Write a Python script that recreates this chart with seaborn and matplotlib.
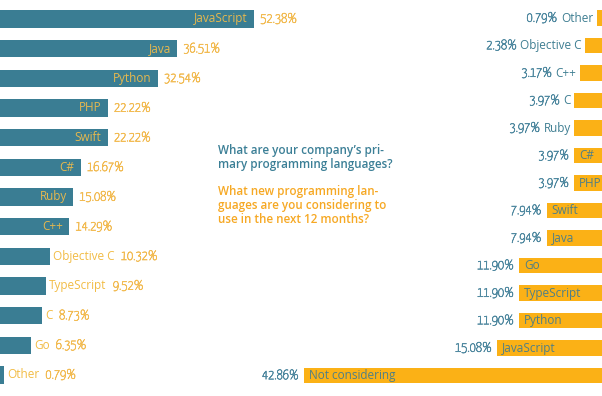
import matplotlib
matplotlib.use("Agg")
import matplotlib.pyplot as plt
import matplotlib.patheffects as pe
import seaborn as sns
import pandas as pd

# trenutni jezici (lijevo)
jezici_sada = ["JavaScript", "Java", "Python", "PHP", "Swift", "C#", "Ruby", "C++",
               "Objective C", "TypeScript", "C", "Go", "Other"]
udio_sada = [52.38, 36.51, 32.54, 22.22, 22.22, 16.67, 15.08, 14.29,
             10.32, 9.52, 8.73, 6.35, 0.79]

# novi jezici koji se razmatraju (desno)
jezici_novi = ["Other", "Objective C", "C++", "C", "Ruby", "C#", "PHP", "Swift",
               "Java", "Go", "TypeScript", "Python", "JavaScript", "Not considering"]
udio_novi = [0.79, 2.38, 3.17, 3.97, 3.97, 3.97, 3.97, 7.94,
             7.94, 11.90, 11.90, 11.90, 15.08, 42.86]
vani_desno = ["Other", "Objective C", "C++", "C", "Ruby"]

pitanje_1 = "What are your company\u2019s pri-\nmary programming languages?"
pitanje_2 = "What new programming lan-\nguages are you considering to\nuse in the next 12 months?"

TEAL = "#3a7d93"
NARANDZASTA = "#fbb116"
ZLATNA = "#e6b84e"
ZUTA_VRIJ = "#f2bb52"
TEAL_VRIJ = "#5089a0"
TEKST_U_NAR = "#4f7f86"

LAB = ["Open Sans", "DejaVu Sans"]
NUM = ["Yanone Kaffeesatz", "Abel", "DejaVu Sans"]
NUM_VEL = 9.8


def deblje(boja):
    # font za brojeve je jako tanak, malo ga podebljamo
    return [pe.withStroke(linewidth=0.45, foreground=boja)]


sns.set_theme(style="white")
fig = plt.figure(figsize=(6.02, 3.96), dpi=100)

# lijevi grafikon
ax1 = fig.add_axes([0, 0, 1, 1])
ax1.patch.set_alpha(0)
df1 = pd.DataFrame({"jezik": jezici_sada, "udio": udio_sada})
sns.barplot(data=df1, x="udio", y="jezik", orient="h", color=TEAL, saturation=1,
            width=0.58, linewidth=0, ax=ax1)
ax1.set_xlim(0, 602 / 4.85)
ax1.set_ylim(12.71, -0.64)
ax1.axis("off")

for i, (naziv, v) in enumerate(zip(jezici_sada, udio_sada)):
    if v > 12:
        lab = ax1.annotate(naziv, xy=(v, i), xytext=(-4.5, 0), textcoords="offset points",
                           ha="right", va="center", fontsize=8.5, color=ZLATNA, family=LAB)
        ax1.annotate(f"{v:.2f}%", xy=(v, i), xytext=(4.5, 0), textcoords="offset points",
                     ha="left", va="center", fontsize=NUM_VEL, color=ZUTA_VRIJ,
                     family=NUM, path_effects=deblje(ZUTA_VRIJ))
    else:
        lab = ax1.annotate(naziv, xy=(v, i), xytext=(2.2, 0), textcoords="offset points",
                           ha="left", va="center", fontsize=8.5, color="#f2bc45", family=LAB)
        ax1.annotate(f"{v:.2f}%", xy=(1, 0.5), xycoords=lab, xytext=(4.5, 0),
                     textcoords="offset points", ha="left", va="center",
                     fontsize=NUM_VEL, color=ZUTA_VRIJ, family=NUM,
                     path_effects=deblje(ZUTA_VRIJ))

# desni grafikon
ax2 = fig.add_axes([0, 0, 1, 1])
ax2.patch.set_alpha(0)
df2 = pd.DataFrame({"jezik": jezici_novi, "udio": udio_novi})
sns.barplot(data=df2, x="udio", y="jezik", orient="h", color=NARANDZASTA, saturation=1,
            width=0.57, linewidth=0, ax=ax2)
ax2.set_xlim(602 / 6.95, 0)
ax2.set_ylim(13.745, -0.655)
ax2.axis("off")

for i, (naziv, v) in enumerate(zip(jezici_novi, udio_novi)):
    if naziv in vani_desno:
        lab = ax2.annotate(naziv, xy=(v, i), xytext=(-2.5, 0), textcoords="offset points",
                           ha="right", va="center", fontsize=8.5, color="#3f7e92", family=LAB)
        ax2.annotate(f"{v:.2f}%", xy=(0, 0.5), xycoords=lab, xytext=(-2.5, 0),
                     textcoords="offset points", ha="right", va="center",
                     fontsize=NUM_VEL, color=TEAL_VRIJ, family=NUM,
                     path_effects=deblje(TEAL_VRIJ))
    else:
        ax2.annotate(naziv, xy=(v, i), xytext=(3.5, 0), textcoords="offset points",
                     ha="left", va="center", fontsize=8.5, color=TEKST_U_NAR, family=LAB)
        ax2.annotate(f"{v:.2f}%", xy=(v, i), xytext=(-3.8, 0), textcoords="offset points",
                     ha="right", va="center", fontsize=NUM_VEL, color=TEAL_VRIJ,
                     family=NUM, path_effects=deblje(TEAL_VRIJ))

# pitanja u sredini
fig.text(218 / 602, 1 - 144 / 396, pitanje_1, ha="left", va="top", fontsize=8.4,
         fontweight="semibold", color="#3b7f96", family=LAB, linespacing=1.1)
fig.text(218 / 602, 1 - 185 / 396, pitanje_2, ha="left", va="top", fontsize=8.4,
         fontweight="semibold", color="#f6a823", family=LAB, linespacing=1.1)

fig.savefig("out.png", dpi=100)
